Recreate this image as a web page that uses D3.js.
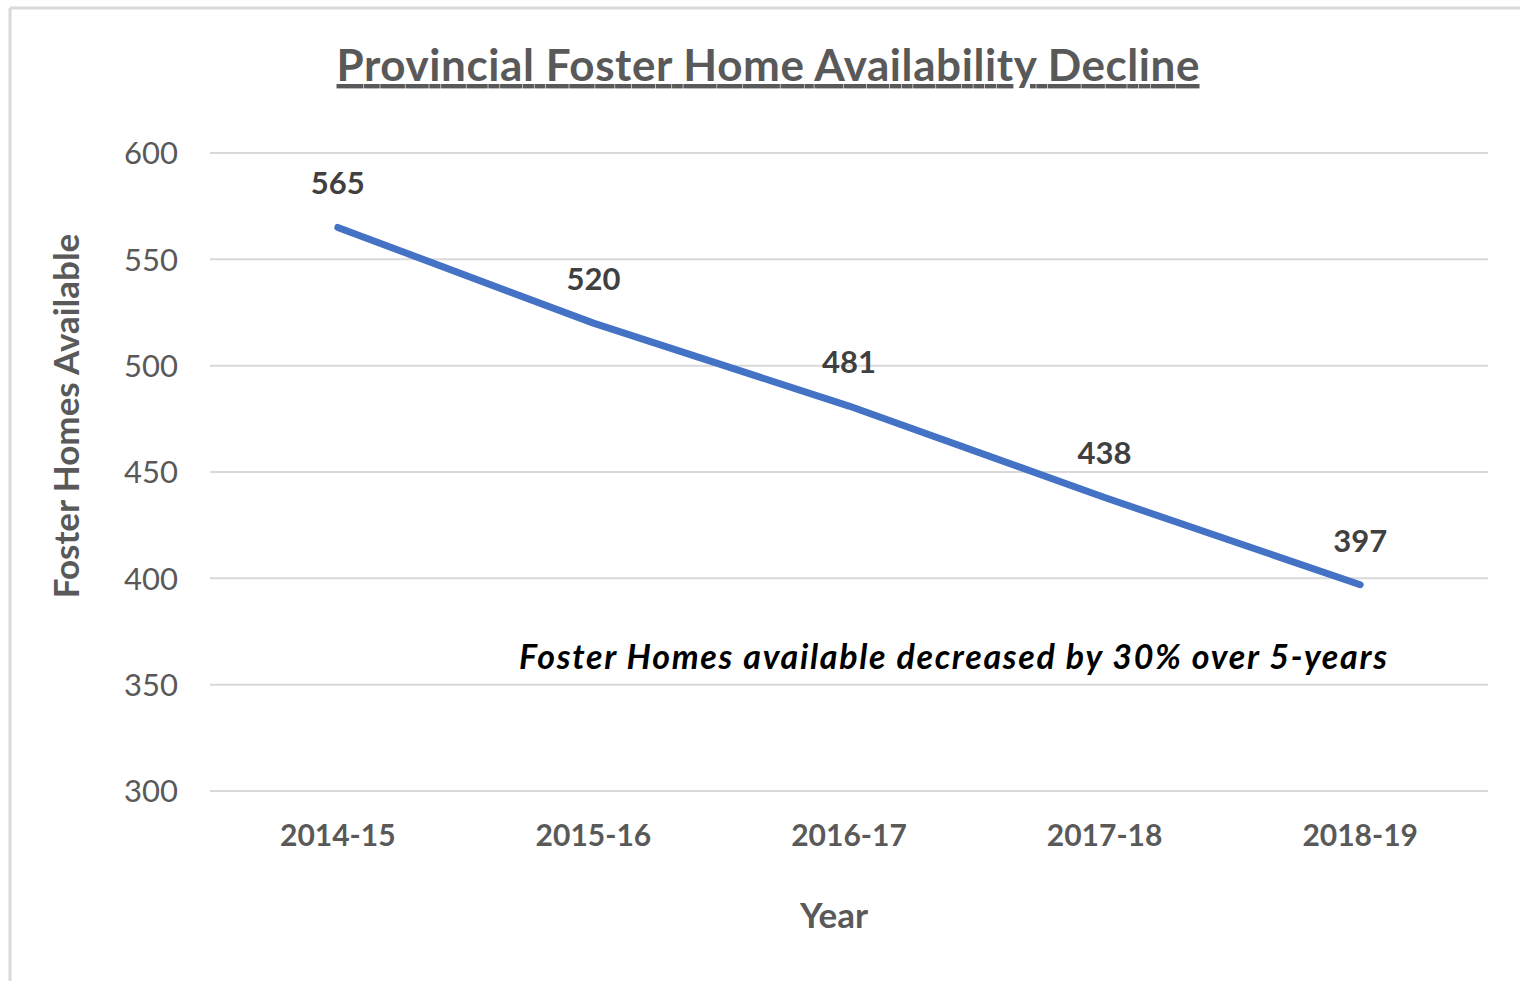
<!DOCTYPE html>
<html><head><meta charset="utf-8">
<script src="https://cdn.jsdelivr.net/npm/d3@7"></script>
<style>html,body{margin:0;padding:0;background:#fff;}svg{display:block;}</style>
</head><body>
<script>
const categories = ["2014-15","2015-16","2016-17","2017-18","2018-19"];
const values = [565, 520, 481, 438, 397];
const yTicks = [300, 350, 400, 450, 500, 550, 600];
const title = "Provincial Foster Home Availability Decline";
const annotation = "Foster Homes available decreased by 30% over 5-years";

const W = 1520, H = 981;
const font = "Lato, 'Open Sans', sans-serif";
const svg = d3.select("body").append("svg").attr("width", W).attr("height", H);

// outer border (top + left visible)
svg.append("line").attr("x1", 10).attr("x2", W).attr("y1", 8).attr("y2", 8).attr("stroke", "#d9d9d9").attr("stroke-width", 3);
svg.append("line").attr("x1", 10).attr("x2", 10).attr("y1", 8).attr("y2", H).attr("stroke", "#d9d9d9").attr("stroke-width", 3);

const x = d3.scaleBand().domain(categories).range([210, 1488]);
const y = d3.scaleLinear().domain([300, 600]).range([791, 153]);

// gridlines
svg.append("g").selectAll("line").data(yTicks).join("line")
  .attr("x1", 210).attr("x2", 1488)
  .attr("y1", d => y(d)).attr("y2", d => y(d))
  .attr("stroke", "#d9d9d9").attr("stroke-width", 2);

// y axis labels
const yAxis = d3.axisLeft(y).tickValues(yTicks).tickSize(0).tickPadding(0);
const gy = svg.append("g").attr("transform", "translate(178,0)").call(yAxis);
gy.select(".domain").remove();
gy.selectAll("text").attr("font-family", font).attr("font-size", 31).attr("fill", "#595959").attr("dy", "0.35em");

// x axis labels
const xAxis = d3.axisBottom(x).tickSize(0).tickPadding(0);
const gx = svg.append("g").attr("transform", "translate(0,835)").call(xAxis);
gx.select(".domain").remove();
gx.selectAll("text").attr("font-family", font).attr("font-size", 30).attr("font-weight", "bold").attr("fill", "#595959").attr("dy", "0.35em");

// line
const line = d3.line().x((d, i) => x(categories[i]) + x.bandwidth() / 2).y(d => y(d));
svg.append("path").datum(values).attr("d", line)
  .attr("fill", "none").attr("stroke", "#4472C4").attr("stroke-width", 7)
  .attr("stroke-linecap", "round").attr("stroke-linejoin", "round");

// data labels
svg.append("g").selectAll("text").data(values).join("text")
  .attr("x", (d, i) => x(categories[i]) + x.bandwidth() / 2)
  .attr("y", d => y(d) - 44)
  .attr("dy", "0.35em")
  .attr("text-anchor", "middle")
  .attr("font-family", font).attr("font-size", 31).attr("font-weight", "bold").attr("fill", "#404040")
  .text(d => d);

// title
svg.append("text").attr("x", 768).attr("y", 81).attr("text-anchor", "middle")
  .attr("font-family", font).attr("font-size", 44).attr("font-weight", "bold").attr("fill", "#595959")
  .attr("textLength", 863).attr("lengthAdjust", "spacing")
  .attr("text-decoration", "underline").text(title);

// axis titles
svg.append("text").attr("transform", "translate(79,416) rotate(-90)").attr("text-anchor", "middle")
  .attr("font-family", font).attr("font-size", 35).attr("font-weight", "bold").attr("fill", "#595959")
  .text("Foster Homes Available");
svg.append("text").attr("x", 834).attr("y", 928).attr("text-anchor", "middle")
  .attr("font-family", font).attr("font-size", 35).attr("font-weight", "bold").attr("fill", "#595959")
  .text("Year");

// annotation
svg.append("text").attr("x", 519).attr("y", 669)
  .attr("font-family", font).attr("font-size", 34).attr("font-weight", "bold").attr("font-style", "italic").attr("fill", "#000")
  .attr("textLength", 868).attr("lengthAdjust", "spacing")
  .text(annotation);
</script>
</body></html>
